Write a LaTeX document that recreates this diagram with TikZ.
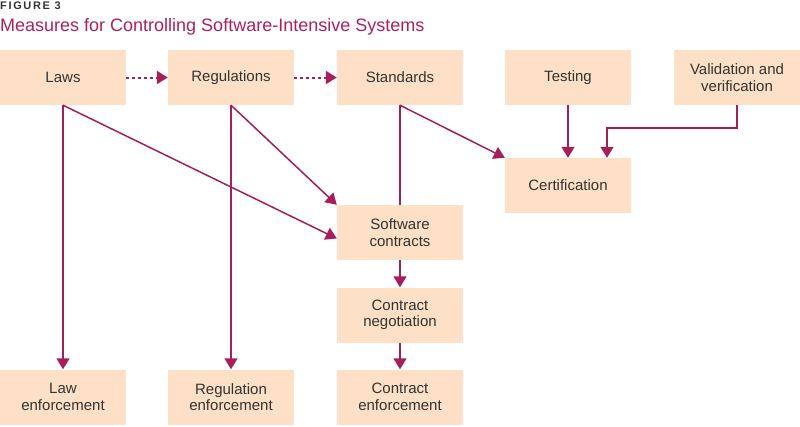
\documentclass[tikz,border=0pt]{standalone}
\usepackage{fontspec}
\setmainfont{Liberation Sans}
\usetikzlibrary{arrows.meta}

\definecolor{boxfill}{HTML}{FDE0C6}
\definecolor{linkred}{HTML}{A61E5A}
\definecolor{titlered}{HTML}{B01F5C}
\definecolor{textgray}{HTML}{333333}

\begin{document}
\begin{tikzpicture}[
    x=1pt, y=-1pt,
    box style/.style={
        fill=boxfill,
        minimum width=126pt,
        minimum height=55pt,
        inner sep=0pt,
        align=center,
        text=textgray,
        font=\fontsize{15}{16.5}\selectfont
    },
    link style/.style={
        draw=linkred,
        line width=1.5pt,
        -{Triangle[length=11pt,width=13pt]}
    },
    line style/.style={
        draw=linkred,
        line width=1.5pt
    },
    dot style/.style={
        draw=linkred,
        line width=2pt,
        dash pattern=on 3pt off 3pt,
        -{Triangle[length=11pt,width=13pt]}
    }
]

\useasboundingbox (0,0) rectangle (800,426);

% Title
\node[anchor=base west, inner sep=0pt, text=textgray,
      font=\fontsize{11}{12}\selectfont\bfseries\addfontfeature{LetterSpace=15}]
      (fig) at (0,9.5) {FIGURE 3};
\node[anchor=base west, inner sep=0pt, text=titlered,
      font=\fontsize{18}{20}\selectfont]
      (title) at (0,31) {Measures for Controlling Software-Intensive Systems};

% Top row
\node[box style] (L) at (63,77.5)  {Laws};
\node[box style] (R) at (231,77.5) {Regulations};
\node[box style] (S) at (400,77.5) {Standards};
\node[box style] (T) at (568,77.5) {Testing};
\node[box style] (V) at (737,77.5) {Validation and\\verification};

% Middle
\node[box style] (C)  at (568,185.5) {Certification};
\node[box style] (SC) at (400,232.5) {Software\\contracts};
\node[box style] (CN) at (400,315)   {Contract\\negotiation};

% Bottom row
\node[box style] (LE) at (63,397)  {Law\\enforcement};
\node[box style] (RE) at (231,397) {Regulation\\enforcement};
\node[box style] (CE) at (400,397) {Contract\\enforcement};

% Dotted chain
\draw[dot style] (L) -- (R);
\draw[dot style] (R) -- (S);

% Laws
\draw[link style] (L.south) -- (LE.north);
\draw[link style] (L.south) -- ([yshift=-6pt]SC.west);

% Regulations
\draw[link style] (R.south) -- (RE.north);
\draw[link style] (R.south) -- (SC.north west);

% Standards
\draw[line style] (S.south) -- (SC.north);
\draw[link style] (S.south) -- (C.north west);

% Contracts
\draw[link style] (SC.south) -- (CN.north);
\draw[link style] (CN.south) -- (CE.north);

% Certification inputs
\draw[link style] (T.south) -- (C.north);
\draw[link style] (V.south) -- ++(0,23) -| ([xshift=39pt]C.north);

\end{tikzpicture}
\end{document}
